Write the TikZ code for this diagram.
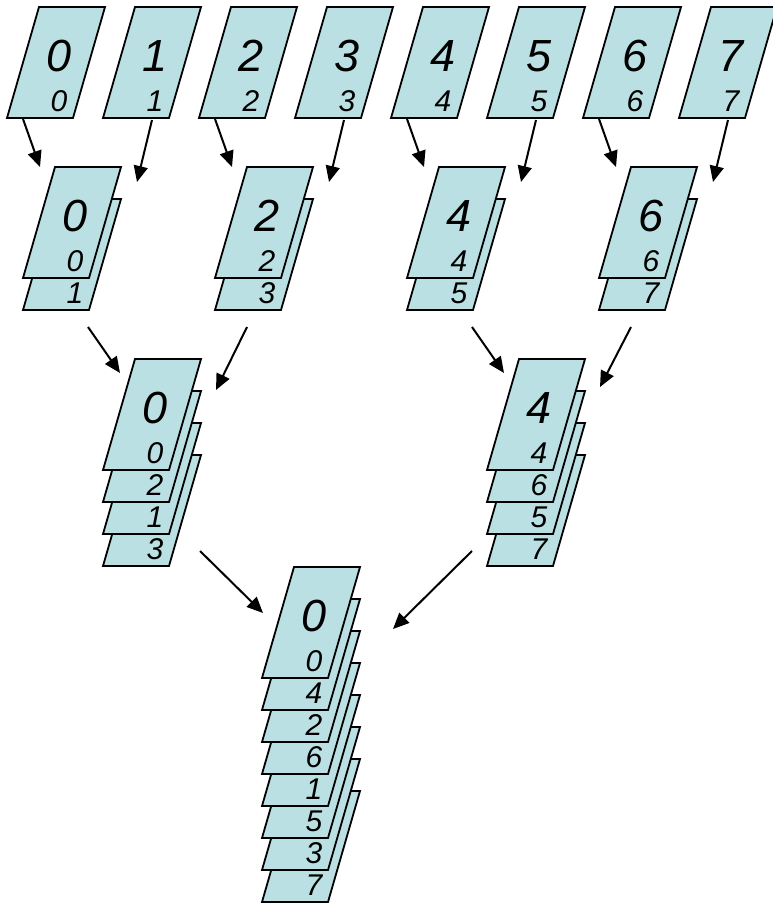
\documentclass[tikz,border=0pt]{standalone}
\usepackage{fontspec}
\setmainfont{Liberation Sans}
\usetikzlibrary{arrows.meta,calc}
\definecolor{cardfill}{HTML}{BBE0E3}
\tikzset{
  x=1pt, y=-1pt,
  card/.style={fill=cardfill, draw=black, line width=1.8pt, line join=miter},
  bignum/.style={font=\fontsize{45}{45}\selectfont\itshape, inner sep=0pt},
  smallnum/.style={font=\fontsize{30}{30}\selectfont\itshape, inner sep=0pt},
  arr/.style={line width=2pt, -{Triangle[length=16pt,width=14pt]}}
}
% \pile{name}{top-left}{big label}{depth/label pairs, bottom card first}
\newcommand\pile[4]{%
  \coordinate (#1) at (#2);
  \foreach \k/\lab in {#4} {
    \coordinate (#1-\k) at ($(#2)+(0,32*\k)$);
    \draw[card] (#1-\k) -- ++(66,0) -- ++(-32,111) -- ++(-66,0) -- cycle;
    \node[smallnum] (#1-\k-n) at ($(#1-\k)+(20,94)$) {\lab};
  }
  \node[bignum] (#1-top) at ($(#1)+(20,49)$) {#3};
}
\begin{document}
\begin{tikzpicture}
\useasboundingbox (0,0) rectangle (772,904);

% single cards
\pile{c0}{39,7}{0}{0/0}
\pile{c1}{135,7}{1}{0/1}
\pile{c2}{231,7}{2}{0/2}
\pile{c3}{327,7}{3}{0/3}
\pile{c4}{423,7}{4}{0/4}
\pile{c5}{519,7}{5}{0/5}
\pile{c6}{615,7}{6}{0/6}
\pile{c7}{711,7}{7}{0/7}

% pairs
\pile{p0}{55,167}{0}{1/1,0/0}
\pile{p1}{247,167}{2}{1/3,0/2}
\pile{p2}{439,167}{4}{1/5,0/4}
\pile{p3}{631,167}{6}{1/7,0/6}

% quadruples
\pile{q0}{135,359}{0}{3/3,2/1,1/2,0/0}
\pile{q1}{519,359}{4}{3/7,2/5,1/6,0/4}

% full stack
\pile{r}{294,567}{0}{7/7,6/3,5/5,4/1,3/6,2/2,1/4,0/0}

% merges: singles into pairs
\draw[arr] ($(c0)+(-16,112)$) -- ($(p0)+(-15,0)$);
\draw[arr] ($(c1)+(17,113)$)  -- ($(p0)+(82,15)$);
\draw[arr] ($(c2)+(-16,112)$) -- ($(p1)+(-15,0)$);
\draw[arr] ($(c3)+(17,113)$)  -- ($(p1)+(82,15)$);
\draw[arr] ($(c4)+(-16,112)$) -- ($(p2)+(-15,0)$);
\draw[arr] ($(c5)+(17,113)$)  -- ($(p2)+(82,15)$);
\draw[arr] ($(c6)+(-16,112)$) -- ($(p3)+(-15,0)$);
\draw[arr] ($(c7)+(17,113)$)  -- ($(p3)+(82,15)$);

% pairs into quadruples
\draw[arr] ($(p0)+(33,160)$) -- ($(q0)+(-15,14)$);
\draw[arr] ($(p1)+(0,160)$)  -- ($(q0)+(81,31)$);
\draw[arr] ($(p2)+(33,160)$) -- ($(q1)+(-15,14)$);
\draw[arr] ($(p3)+(0,160)$)  -- ($(q1)+(81,28)$);

% quadruples into the full stack
\draw[arr] ($(q0)+(65,192)$)  -- ($(r)+(-31,46)$);
\draw[arr] ($(q1)+(-47,192)$) -- ($(r)+(99,62)$);
\end{tikzpicture}
\end{document}
